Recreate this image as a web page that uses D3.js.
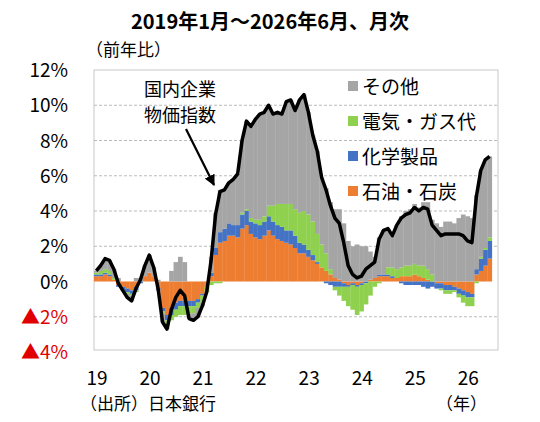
<!DOCTYPE html>
<html><head><meta charset="utf-8">
<script src="https://cdn.jsdelivr.net/npm/d3@7"></script>
<style>body{margin:0;background:#fff}text{font-family:"Noto Sans CJK JP","Noto Sans",sans-serif}</style>
</head><body><svg id="c" width="540" height="422"></svg>
<script>
const startYear = 2019;
const petroleum = [0.3,0.3,0.4,0.3,0.1,-0.2,-0.3,-0.4,-0.5,-0.3,0,0.3,
0.5,0.3,-0.4,-1.5,-1.9,-1.5,-1.2,-1.1,-1.1,-1.1,-1.1,-1.0,
-0.7,-0.3,0.3,1.5,2.2,2.3,2.6,2.6,2.5,3.0,3.2,2.7,
2.5,2.4,2.6,2.9,2.6,2.4,2.3,2.2,2.1,1.9,1.6,1.6,
1.4,1.2,1.0,0.8,0.6,0.4,0.2,0.1,-0.1,-0.2,-0.1,-0.2,
-0.1,0,0.1,0.2,0.3,0.3,0.3,0.2,0.2,0.3,0.3,0.3,
0.4,0.3,0.2,0.1,0,-0.1,-0.1,-0.2,-0.2,-0.3,-0.4,-0.5,
-0.6,-0.7,0.4,0.6,0.9,1.3];
const chemicals = [0.1,0.1,0.1,0.1,0,-0.1,-0.2,-0.2,-0.2,-0.2,-0.1,0,
0,0,-0.1,-0.2,-0.3,-0.4,-0.4,-0.3,-0.3,-0.3,-0.3,-0.2,
-0.1,0,0.2,0.4,0.6,0.7,0.7,0.6,0.7,0.8,0.8,0.7,
0.8,0.8,0.8,0.8,0.8,0.8,0.8,0.7,0.8,0.7,0.6,0.5,
0.4,0.3,0.1,0,-0.1,-0.2,-0.3,-0.3,-0.2,-0.1,-0.1,-0.1,
-0.1,-0.1,0,0,0.1,0.1,0.1,0.1,0,-0.1,-0.2,-0.2,
-0.2,-0.2,-0.3,-0.4,-0.3,-0.3,-0.3,-0.3,-0.3,-0.2,-0.3,-0.3,
-0.3,-0.2,0.3,0.7,0.9,1.0];
const electricity = [0.1,0.2,0.2,0.2,0.1,0,0,-0.1,-0.1,-0.1,0,0,
0,0,0,-0.1,-0.2,-0.3,-0.4,-0.5,-0.5,-0.4,-0.4,-0.3,
-0.4,-0.3,-0.2,-0.1,-0.1,0,0,0,0,0.1,0.1,0.2,
0.2,0.3,0.3,0.6,0.9,1.2,1.3,1.5,1.5,1.5,1.7,1.9,
2.0,1.9,1.6,1.3,1.0,0.3,-0.2,-0.5,-0.8,-1.1,-1.4,-1.6,
-1.5,-1.2,-0.8,-0.3,-0.1,0,0.4,0.5,0.5,0.5,0.6,0.6,
0.6,0.6,0.7,0.6,0.4,0,-0.1,-0.2,-0.2,-0.1,-0.2,-0.4,
-0.5,-0.5,-0.1,0.1,0.1,0.2];
const others = [0.1,0.3,0.6,0.6,0.5,0.2,0,-0.2,-0.3,0.2,0.2,0.6,
1.0,0.5,0.1,-0.5,-0.3,0.6,1.1,1.4,1.1,-0.3,-0.4,-0.5,
-0.2,0,0.9,2.0,2.4,2.2,2.3,2.6,2.9,4.1,5.0,5.2,
5.7,6.0,5.9,5.7,5.2,5.2,5.1,5.8,5.9,5.6,6.4,6.6,
5.8,4.9,4.7,3.8,3.7,3.8,3.9,4.0,3.3,2.3,2.0,2.1,
2.0,2.0,1.6,1.2,2.1,2.5,2.2,1.8,2.5,2.9,3.1,3.2,
3.4,3.3,3.6,3.8,3.1,3.3,3.1,3.4,3.4,3.3,3.6,3.8,
3.7,3.6,4.2,4.9,5.0,4.6];
const cgpi = [0.6,0.9,1.3,1.2,0.7,-0.1,-0.5,-0.9,-1.1,-0.4,0.1,0.9,
1.5,0.8,-0.4,-2.3,-2.7,-1.6,-0.9,-0.5,-0.8,-2.1,-2.2,-2.0,
-1.4,-0.6,1.2,3.8,5.1,5.2,5.6,5.8,6.1,8.0,9.1,8.8,
9.2,9.5,9.6,10.0,9.5,9.6,9.5,10.2,10.3,9.7,10.3,10.6,
9.6,8.3,7.4,5.9,5.2,4.3,3.6,3.3,2.2,0.9,0.4,0.2,
0.3,0.7,0.9,1.1,2.4,2.9,3.0,2.6,3.2,3.6,3.8,3.9,
4.2,4.0,4.2,4.1,3.2,2.9,2.6,2.7,2.7,2.7,2.7,2.6,
2.3,2.2,4.8,6.3,6.9,7.1];
const yTicks = [12,10,8,6,4,2,0,-2,-4];
const yearLabels = ["19","20","21","22","23","24","25","26"];
const seriesKeys = ["petroleum","chemicals","electricity","others"];
const seriesNames = ["石油・石炭","化学製品","電気・ガス代","その他"];
const colors = ["#ed7d31","#4472c4","#8fd14f","#a5a5a5"];

const svg = d3.select("#c");
const L=94, R=498, T=70, B=352;
const n = cgpi.length;
const x = d3.scaleLinear().domain([0,90]).range([L,L+90*4.42]);
const y = d3.scaleLinear().domain([-4,12]).range([B,T]);
const rows = cgpi.map((v,i)=>({i,petroleum:petroleum[i],chemicals:chemicals[i],electricity:electricity[i],others:others[i]}));
const stack = d3.stack().keys(seriesKeys).offset(d3.stackOffsetDiverging)(rows);

svg.append("rect").attr("x",L).attr("y",T).attr("width",R-L).attr("height",B-2-T).attr("fill","none").attr("stroke","#c8c8c8");
yTicks.filter(t=>t<12&&t>-4&&t!==0).forEach(t=>svg.append("line").attr("x1",L).attr("x2",R).attr("y1",y(t)).attr("y2",y(t)).attr("stroke","#bbb").attr("stroke-dasharray","3,2"));

stack.forEach((s,k)=>{
  svg.append("g").attr("fill",colors[k]).selectAll("rect").data(s).join("rect")
    .attr("x",d=>x(d.data.i)).attr("width",x(1)-x(0)+0.3)
    .attr("y",d=>y(Math.max(d[0],d[1]))).attr("height",d=>Math.abs(y(d[0])-y(d[1])));
});
svg.append("path").datum(cgpi).attr("fill","none").attr("stroke","#000").attr("stroke-width",3.5).attr("stroke-linejoin","round")
  .attr("d",d3.line().x((d,i)=>x(i+0.5)).y(d=>y(d)));

yTicks.forEach(t=>svg.append("text").attr("x",68).attr("y",y(t)+7).attr("text-anchor","end").attr("font-size",19)
  .attr("fill",t<0?"#e00000":"#000").text((t<0?"▲"+(-t):t)+"%"));
yearLabels.forEach((l,j)=>svg.append("text").attr("x",x(j*12)+3).attr("y",385).attr("text-anchor","middle").attr("font-size",19).text(l));
svg.append("text").attr("x",270).attr("y",29).attr("text-anchor","middle").attr("font-size",20).attr("font-weight","bold").text("2019年1月～2026年6月、月次");
svg.append("text").attr("x",86).attr("y",56).attr("font-size",17).text("（前年比）");
svg.append("text").attr("x",80).attr("y",410).attr("font-size",17).text("（出所）日本銀行");
svg.append("text").attr("x",436).attr("y",410).attr("font-size",17).text("（年）");

const leg = [3,2,1,0];
leg.forEach((k,j)=>{
  const yy = 87+j*35;
  svg.append("rect").attr("x",348).attr("y",yy-6).attr("width",10).attr("height",10).attr("fill",colors[k]);
  svg.append("text").attr("x",362).attr("y",yy+7).attr("font-size",19).text(seriesNames[k]);
});
svg.append("text").attr("x",180).attr("y",96).attr("text-anchor","middle").attr("font-size",18).text("国内企業");
svg.append("text").attr("x",180).attr("y",122).attr("text-anchor","middle").attr("font-size",18).text("物価指数");
svg.append("defs").append("marker").attr("id","ah").attr("viewBox","0 0 10 10").attr("refX",9).attr("refY",5)
  .attr("markerWidth",5).attr("markerHeight",5).attr("orient","auto").append("path").attr("d","M0,0L10,5L0,10z");
svg.append("line").attr("x1",186).attr("y1",129).attr("x2",214).attr("y2",185).attr("stroke","#000").attr("stroke-width",2.2).attr("marker-end","url(#ah)");
</script></body></html>
